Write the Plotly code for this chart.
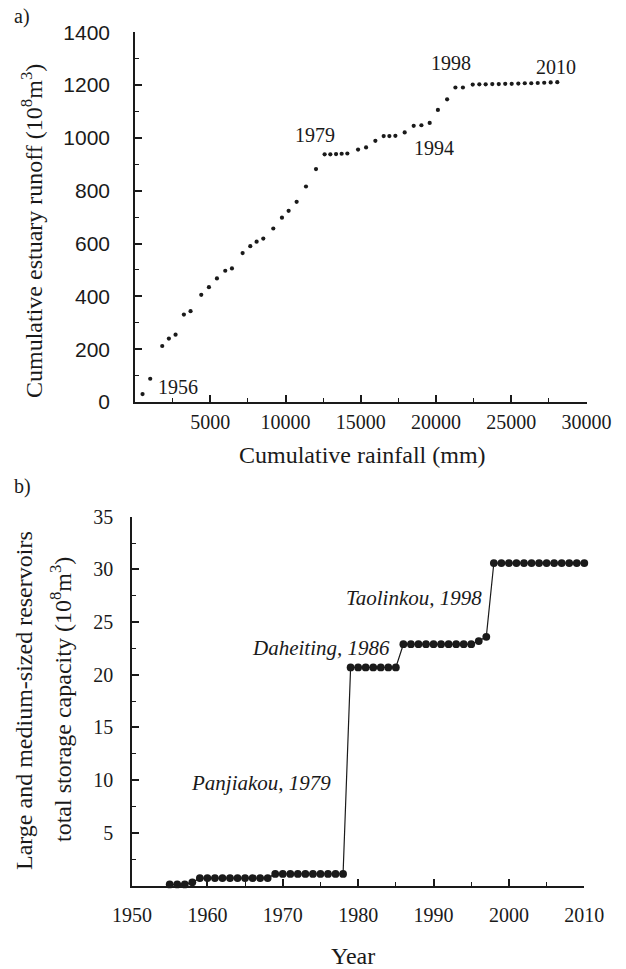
import plotly.graph_objects as go

# ---------------- data ----------------
# Panel a: cumulative rainfall (mm) vs cumulative estuary runoff (10^8 m^3), 1956-2010
cum_rainfall = [501, 1011, 1809, 2252, 2695, 3249, 3692, 4402, 4912, 5444,
                5997, 6441, 7150, 7660, 8081, 8524, 9189, 9765, 10208, 10740,
                11361, 12026, 12600, 12979, 13358, 13731, 14109, 14821, 15353, 15971,
                16523, 16902, 17301, 17919, 18518, 19030, 19581, 20127, 20738, 21290,
                21789, 22440, 22880, 23300, 23740, 24170, 24600, 25030, 25470, 25900,
                26330, 26760, 27190, 27620, 28059]
cum_runoff = [30, 88, 212, 240, 255, 331, 344, 406, 435, 468,
              497, 506, 564, 590, 607, 619, 657, 698, 724, 758,
              816, 882, 938, 938, 939, 940, 941, 956, 964, 989,
              1007, 1007, 1008, 1021, 1046, 1048, 1057, 1106, 1146, 1191,
              1191, 1202, 1203, 1203, 1204, 1204, 1205, 1205, 1206, 1207,
              1207, 1208, 1209, 1210, 1211]
a_labels = ["1956", "1979", "1994", "1998", "2010"]
a_label_x = [2839, 11982, 19874, 21004, 27972]
a_label_y = [56, 1013, 962, 1285, 1269]

# Panel b: total storage capacity of large and medium-sized reservoirs (10^8 m^3)
years = list(range(1955, 2011))
capacity = ([0.1, 0.1, 0.1, 0.3]
            + [0.7] * 10
            + [1.1] * 10
            + [20.7] * 7
            + [22.9] * 10
            + [23.2, 23.6]
            + [30.6] * 13)
b_labels = ["Panjiakou, 1979", "Daheiting, 1986", "Taolinkou, 1998"]
b_label_x = [1976.7, 1984.5, 1996.7]
b_label_y = [9.7, 22.5, 27.3]

a_yticks = [0, 200, 400, 600, 800, 1000, 1200, 1400]
a_xticks = [5000, 10000, 15000, 20000, 25000, 30000]
b_yticks = [5, 10, 15, 20, 25, 30, 35]
b_xticks = [1950, 1960, 1970, 1980, 1990, 2000, 2010]

# ---------------- figure ----------------
W, H = 626, 969
SERIF = "Liberation Serif"
SANS = "Liberation Sans"
INK = "#1a1a1a"

fig = go.Figure()
fig.add_trace(go.Scatter(x=cum_rainfall, y=cum_runoff, mode="markers",
                         marker=dict(size=4.2, color=INK), xaxis="x", yaxis="y",
                         showlegend=False, cliponaxis=False))
fig.add_trace(go.Scatter(x=years, y=capacity, mode="lines+markers",
                         marker=dict(size=7.8, color=INK),
                         line=dict(color=INK, width=1.2), xaxis="x2", yaxis="y2",
                         showlegend=False, cliponaxis=False))

axis_common = dict(showline=True, linecolor=INK, linewidth=1.6, showgrid=False,
                   zeroline=False, ticks="inside", ticklen=7, tickwidth=1.6,
                   tickcolor=INK, mirror=False, fixedrange=True, automargin=False,
                   layer="above traces")

def px_x(p):
    return p / W

def px_y(p):
    return 1 - p / H

fig.update_layout(
    width=W, height=H, margin=dict(l=0, r=0, t=0, b=0, autoexpand=False),
    paper_bgcolor="white", plot_bgcolor="white",
    font=dict(family=SERIF, color=INK, size=20),
    xaxis=dict(axis_common, domain=[px_x(135), px_x(586.5)], anchor="y",
               range=[0, 30000], tickmode="array", tickvals=a_xticks,
               ticktext=[str(v) for v in a_xticks],
               tickfont=dict(family=SERIF, size=20), ticklabelstandoff=1,
               minor=dict(tickmode="linear", tick0=0, dtick=2500, ticks="inside",
                          ticklen=4, tickwidth=1.4, tickcolor=INK)),
    yaxis=dict(axis_common, domain=[px_y(402), px_y(32.3)], anchor="x",
               range=[0, 1400], tickmode="array", tickvals=a_yticks,
               ticktext=[str(v) for v in a_yticks],
               tickfont=dict(family=SANS, size=21), ticklabelstandoff=19,
               minor=dict(tickmode="linear", tick0=0, dtick=100, ticks="inside",
                          ticklen=4, tickwidth=1.4, tickcolor=INK)),
    xaxis2=dict(axis_common, domain=[px_x(132), px_x(584.3)], anchor="y2",
                range=[1950, 2010], tickmode="array", tickvals=b_xticks,
                ticktext=[str(v) for v in b_xticks],
                tickfont=dict(family=SERIF, size=20), ticklabelstandoff=11,
                minor=dict(tickmode="linear", tick0=1950, dtick=5, ticks="inside",
                           ticklen=4, tickwidth=1.4, tickcolor=INK)),
    yaxis2=dict(axis_common, domain=[px_y(885.5), px_y(516.7)], anchor="x2",
                range=[0, 35], tickmode="array", tickvals=b_yticks,
                ticktext=[str(v) for v in b_yticks],
                tickfont=dict(family=SERIF, size=20), ticklabelstandoff=13,
                minor=dict(tickmode="linear", tick0=0, dtick=2.5, ticks="inside",
                           ticklen=4, tickwidth=1.4, tickcolor=INK)),
)

ann = []
# point labels panel a
for t, x, y in zip(a_labels, a_label_x, a_label_y):
    ann.append(dict(text=t, x=x, y=y, xref="x", yref="y", showarrow=False,
                    font=dict(family=SERIF, size=20, color=INK),
                    xanchor="center", yanchor="middle"))
# reservoir labels panel b
for t, x, y in zip(b_labels, b_label_x, b_label_y):
    ann.append(dict(text=t, x=x, y=y, xref="x2", yref="y2", showarrow=False,
                    font=dict(family=SERIF, size=21, color=INK, style="italic"),
                    xanchor="right", yanchor="middle"))

def paper_text(text, x, y, size=24, angle=0, xanchor="center", yanchor="middle"):
    return dict(text=text, x=px_x(x), y=px_y(y), xref="paper", yref="paper",
                showarrow=False, textangle=angle, xanchor=xanchor, yanchor=yanchor,
                font=dict(family=SERIF, size=size, color=INK))

ann += [
    paper_text("a)", 12, 16, size=20, xanchor="left"),
    paper_text("b)", 12, 487, size=20, xanchor="left"),
    paper_text("Cumulative estuary runoff (10<sup>8</sup>m<sup>3</sup>)", 32, 231, angle=-90),
    paper_text("Cumulative rainfall (mm)", 362, 455),
    paper_text("Large and medium-sized reservoirs", 24, 701, angle=-90),
    paper_text("total storage capacity (10<sup>8</sup>m<sup>3</sup>)", 61, 700, angle=-90),
    paper_text("Year", 353, 956),
]
fig.update_layout(annotations=ann)

fig.write_html("out.html", config={"displayModeBar": False},
               post_script="document.body.style.margin='0';document.body.style.overflow='hidden';")
